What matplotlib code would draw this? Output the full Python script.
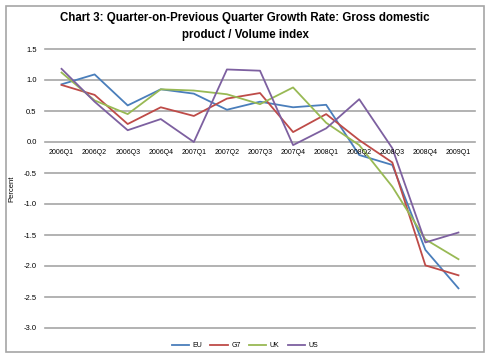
import numpy as np
import matplotlib.pyplot as plt
from matplotlib.patches import Rectangle

# Quarters and growth rates (percent)
quarters = ['2006Q1', '2006Q2', '2006Q3', '2006Q4', '2007Q1', '2007Q2', '2007Q3',
            '2007Q4', '2008Q1', '2008Q2', '2008Q3', '2008Q4', '2009Q1']
eu = [0.93, 1.09, 0.59, 0.85, 0.78, 0.52, 0.65, 0.56, 0.60, -0.21, -0.37, -1.74, -2.36]
g7 = [0.92, 0.76, 0.29, 0.56, 0.42, 0.70, 0.79, 0.16, 0.45, 0.03, -0.33, -1.99, -2.15]
uk = [1.12, 0.67, 0.45, 0.85, 0.83, 0.77, 0.61, 0.88, 0.31, -0.05, -0.72, -1.57, -1.89]
us = [1.18, 0.65, 0.19, 0.37, 0.00, 1.17, 1.15, -0.05, 0.22, 0.69, -0.10, -1.62, -1.46]

series = [('EU', eu, '#4a7ebb'), ('G7', g7, '#be4b48'),
          ('UK', uk, '#98b954'), ('US', us, '#7d60a0')]
y_ticks = np.arange(-3.0, 1.51, 0.5)

plt.rcParams['font.family'] = ['Liberation Sans', 'DejaVu Sans']

fig = plt.figure(figsize=(4.9, 3.57), dpi=100)
fig.patches.append(Rectangle((6 / 490, 5 / 357), 478 / 490, 346 / 357, transform=fig.transFigure,
                             fill=False, edgecolor='#a6a6a6', linewidth=1.2))

ax = fig.add_axes([45 / 490, 1 - 328 / 357, 430 / 490, 279 / 357])
x = np.arange(len(quarters))

for name, vals, col in series:
    ax.plot(x, vals, color=col, linewidth=1.3, label=name)

ax.set_xlim(-0.5, len(quarters) - 0.5)
ax.set_ylim(-3.0, 1.5)
for v in y_ticks:
    ax.axhline(v, color='#a6a6a6', linewidth=1.2, zorder=0, clip_on=False)

ax.set_yticks(y_ticks)
ax.set_yticklabels([f'{v:.1f}' for v in y_ticks], fontsize=5.5)
ax.tick_params(axis='y', length=0, pad=6)

# category labels sit just under the zero line
ax.set_xticks([])
for xi, q in zip(x, quarters):
    ax.text(xi, -0.12, q, ha='center', va='top', fontsize=5)

for s in ax.spines.values():
    s.set_visible(False)

ax.set_ylabel('Percent', fontsize=5.5, labelpad=6)

fig.suptitle('Chart 3: Quarter-on-Previous Quarter Growth Rate: Gross domestic\nproduct / Volume index',
             fontsize=8.3, fontweight='bold', y=0.965, linespacing=1.55)

fig.legend(loc='lower center', ncol=4, fontsize=5, frameon=False, handlelength=2.5,
           bbox_to_anchor=(0.5, 0.005), columnspacing=1.2, handletextpad=0.5)

fig.savefig('out.png', dpi=100)
